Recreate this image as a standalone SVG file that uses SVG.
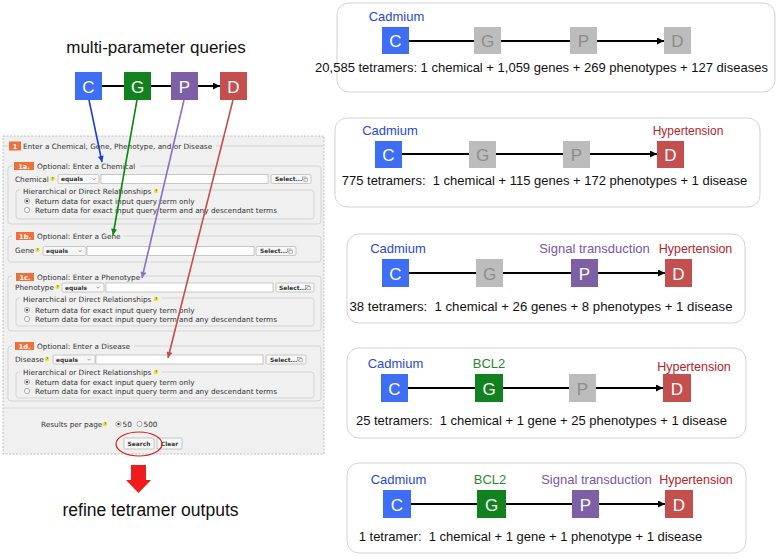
<svg xmlns="http://www.w3.org/2000/svg" width="780" height="560" viewBox="0 0 780 560">
<defs>
<style>
.t{font-family:"Liberation Sans",Arial,sans-serif;white-space:pre}
.f{font-family:"DejaVu Sans",Verdana,sans-serif;font-size:7.3px;fill:#333}
.fb{font-family:"DejaVu Sans",Verdana,sans-serif;font-size:5.9px;font-weight:bold;fill:#333}
.bw{font-family:"DejaVu Sans",Verdana,sans-serif;font-size:6.6px;font-weight:bold;fill:#fff}
.box{font-family:"Liberation Sans",Arial,sans-serif;font-size:17px;fill:#fff}
.gl{font-family:"Liberation Sans",Arial,sans-serif;font-size:17px;fill:#8c8c8c}
.cC{fill:#3d6ef3}.cG{fill:#11821d}.cP{fill:#7d5fa6}.cD{fill:#c3504f}.cX{fill:#bcbcbc}
.lC{fill:#2b48d8}.lG{fill:#2a8a2a}.lP{fill:#7a55a8}.lD{fill:#b8222a}
.panel{fill:#fff;stroke:#d3d3d3;stroke-width:1}
.chain{stroke:#000;stroke-width:2;fill:none}
.fs{fill:none;stroke:#cdcdcd;stroke-width:0.8}
.inp{fill:#fff;stroke:#a9a9a9;stroke-width:0.6}
.sel{fill:#f7f7f7;stroke:#a9a9a9;stroke-width:0.6}
.badge{fill:#f0703c}
.q{fill:#f3e52a}
.rad{fill:#fff;stroke:#777;stroke-width:0.6}
</style>
<marker id="mk" viewBox="0 0 10 10" refX="10" refY="5" markerWidth="8" markerHeight="7" orient="auto" markerUnits="userSpaceOnUse"><path d="M0,0 L10,5 L0,10z" fill="#000"/></marker>
<marker id="mb" viewBox="0 0 10 10" refX="10" refY="5" markerWidth="7" markerHeight="6" orient="auto" markerUnits="userSpaceOnUse"><path d="M0,0 L10,5 L0,10z" fill="#1a3fd8"/></marker>
<marker id="mg" viewBox="0 0 10 10" refX="10" refY="5" markerWidth="7" markerHeight="6" orient="auto" markerUnits="userSpaceOnUse"><path d="M0,0 L10,5 L0,10z" fill="#0a8a0a"/></marker>
<marker id="mp" viewBox="0 0 10 10" refX="10" refY="5" markerWidth="7" markerHeight="6" orient="auto" markerUnits="userSpaceOnUse"><path d="M0,0 L10,5 L0,10z" fill="#8a70c0"/></marker>
<marker id="mr" viewBox="0 0 10 10" refX="10" refY="5" markerWidth="7" markerHeight="6" orient="auto" markerUnits="userSpaceOnUse"><path d="M0,0 L10,5 L0,10z" fill="#c0504d"/></marker>
<g id="qi"><circle cx="0" cy="0" r="2.3" class="q"/><text x="0" y="1.4" text-anchor="middle" style="font-family:'DejaVu Sans',sans-serif;font-size:3.6px;font-weight:bold;fill:#555">?</text></g>
<g id="ro"><circle cx="0" cy="0" r="2.6" class="rad"/></g>
<g id="rc"><circle cx="0" cy="0" r="2.6" class="rad"/><circle cx="0" cy="0" r="1.3" fill="#555"/></g>
<path id="chev" d="M-1.5,-0.8 L0,0.8 L1.5,-0.8" fill="none" stroke="#666" stroke-width="0.6"/>
<g id="pop"><rect x="-1.5" y="-2.5" width="3.5" height="3" fill="none" stroke="#777" stroke-width="0.5"/><rect x="0" y="-1.2" width="3.5" height="3" fill="#f4f4f4" stroke="#777" stroke-width="0.5"/></g>
</defs>
<rect width="780" height="560" fill="#fff"/>

<text class="t" x="156" y="53" text-anchor="middle" font-size="17" fill="#111">multi-parameter queries</text>
<text class="t" x="150.5" y="516" text-anchor="middle" font-size="17.5" fill="#111">refine tetramer outputs</text>

<!-- form -->
<g id="form">
<rect x="3" y="136" width="321" height="318" fill="#f0f0f0" stroke="#b0b0b0" stroke-width="0.8" stroke-dasharray="2,1.5"/>
<line x1="4" y1="146" x2="9" y2="146" stroke="#c8c8c8" stroke-width="0.8"/>
<line x1="216" y1="146" x2="323" y2="146" stroke="#c8c8c8" stroke-width="0.8"/>
<rect x="9" y="141.5" width="12" height="9" class="badge"/>
<text class="bw" x="15" y="148.7" text-anchor="middle">1</text>
<text class="f" x="23" y="148.9">Enter a Chemical, Gene, Phenotype, and or Disease</text>

<!-- 1a -->
<rect x="8" y="166" width="313" height="58" rx="3" class="fs"/>
<rect x="12" y="161" width="128" height="10" fill="#f0f0f0"/>
<rect x="14" y="162" width="20" height="8" class="badge"/>
<text class="bw" x="24" y="168.6" text-anchor="middle">1a.</text>
<text class="f" x="37" y="168.8">Optional: Enter a Chemical</text>
<text class="f" x="15" y="181.6">Chemical</text>
<use href="#qi" x="52.5" y="179"/>
<rect x="58" y="174.5" width="41" height="9" rx="1.5" class="sel"/>
<text class="fb" x="61" y="181.2">equals</text>
<use href="#chev" x="94" y="179"/>
<rect x="101" y="174.5" width="167" height="9" class="inp"/>
<rect x="271" y="174.5" width="40" height="9" rx="1.5" class="sel"/>
<text class="fb" x="275" y="181.2">Select...</text>
<use href="#pop" x="304" y="179.5"/>
<rect x="16" y="190" width="298" height="29" rx="3" class="fs"/>
<rect x="20" y="186" width="142" height="8" fill="#f0f0f0"/>
<text class="f" x="23" y="193.6">Hierarchical or Direct Relationships</text>
<use href="#qi" x="156" y="191"/>
<use href="#rc" x="27" y="201"/>
<text class="f" x="35" y="203.6">Return data for exact input query term only</text>
<use href="#ro" x="27" y="210"/>
<text class="f" x="35" y="212.6">Return data for exact input query term and any descendant terms</text>

<!-- 1b -->
<rect x="8" y="236" width="313" height="26" rx="3" class="fs"/>
<rect x="12" y="231" width="112" height="10" fill="#f0f0f0"/>
<rect x="16" y="232" width="18" height="8" class="badge"/>
<text class="bw" x="25" y="238.6" text-anchor="middle">1b.</text>
<text class="f" x="37" y="238.8">Optional: Enter a Gene</text>
<text class="f" x="15" y="252.6">Gene</text>
<use href="#qi" x="37.5" y="250"/>
<rect x="43" y="246.5" width="43" height="9" rx="1.5" class="sel"/>
<text class="fb" x="46" y="253.2">equals</text>
<use href="#chev" x="80" y="251"/>
<rect x="87" y="246.5" width="167" height="9" class="inp"/>
<rect x="256" y="246.5" width="40" height="9" rx="1.5" class="sel"/>
<text class="fb" x="260" y="253.2">Select...</text>
<use href="#pop" x="289" y="251.5"/>

<!-- 1c -->
<rect x="8" y="276" width="313" height="55" rx="3" class="fs"/>
<rect x="12" y="272" width="132" height="10" fill="#f0f0f0"/>
<rect x="16" y="273" width="18" height="8" class="badge"/>
<text class="bw" x="25" y="279.6" text-anchor="middle">1c.</text>
<text class="f" x="37" y="279.8">Optional: Enter a Phenotype</text>
<text class="f" x="15" y="289.6">Phenotype</text>
<use href="#qi" x="57.5" y="287"/>
<rect x="62" y="283" width="42" height="9" rx="1.5" class="sel"/>
<text class="fb" x="65" y="289.7">equals</text>
<use href="#chev" x="98" y="287.5"/>
<rect x="106" y="283" width="167" height="9" class="inp"/>
<rect x="276" y="283" width="38" height="9" rx="1.5" class="sel"/>
<text class="fb" x="279" y="289.7">Select...</text>
<use href="#pop" x="307" y="288"/>
<rect x="16" y="298" width="298" height="28" rx="3" class="fs"/>
<rect x="20" y="294" width="142" height="8" fill="#f0f0f0"/>
<text class="f" x="23" y="301.6">Hierarchical or Direct Relationships</text>
<use href="#qi" x="156" y="299"/>
<use href="#rc" x="27" y="310"/>
<text class="f" x="35" y="312.6">Return data for exact input query term only</text>
<use href="#ro" x="27" y="319"/>
<text class="f" x="35" y="321.6">Return data for exact input query term and any descendant terms</text>

<!-- 1d -->
<rect x="8" y="346" width="313" height="55" rx="3" class="fs"/>
<rect x="12" y="341" width="122" height="10" fill="#f0f0f0"/>
<rect x="15" y="342" width="19" height="8" class="badge"/>
<text class="bw" x="24.5" y="348.6" text-anchor="middle">1d.</text>
<text class="f" x="37" y="348.8">Optional: Enter a Disease</text>
<text class="f" x="15" y="361.6">Disease</text>
<use href="#qi" x="47" y="359"/>
<rect x="53" y="355" width="42" height="9" rx="1.5" class="sel"/>
<text class="fb" x="56" y="361.7">equals</text>
<use href="#chev" x="89" y="359.5"/>
<rect x="96" y="355" width="167" height="9" class="inp"/>
<rect x="266" y="355" width="40" height="9" rx="1.5" class="sel"/>
<text class="fb" x="270" y="361.7">Select...</text>
<use href="#pop" x="299" y="360"/>
<rect x="16" y="372" width="298" height="26" rx="3" class="fs"/>
<rect x="20" y="368" width="142" height="8" fill="#f0f0f0"/>
<text class="f" x="23" y="374.6">Hierarchical or Direct Relationships</text>
<use href="#qi" x="156" y="372"/>
<use href="#rc" x="27" y="382"/>
<text class="f" x="35" y="384.6">Return data for exact input query term only</text>
<use href="#ro" x="27" y="391"/>
<text class="f" x="35" y="393.6">Return data for exact input query term and any descendant terms</text>

<line x1="3.5" y1="408" x2="323.5" y2="408" stroke="#d3d3d3" stroke-width="0.8"/>
<text class="f" x="41" y="426.6">Results per page</text>
<use href="#qi" x="105" y="424"/>
<use href="#rc" x="118.5" y="424"/>
<text class="f" x="122.5" y="426.6">50</text>
<use href="#ro" x="139.5" y="424"/>
<text class="f" x="143.5" y="426.6">500</text>
<rect x="124" y="438" width="30" height="11" rx="1" class="sel"/>
<text class="fb" x="139" y="445.8" text-anchor="middle">Search</text>
<rect x="157" y="438" width="25" height="11" rx="1" class="sel"/>
<text class="fb" x="169.5" y="445.8" text-anchor="middle">Clear</text>
<ellipse cx="139" cy="444" rx="23" ry="12" fill="none" stroke="#d42020" stroke-width="1.2"/>
</g>

<polygon id="refine-arrow" points="131,465 146,465 146,480 151,480 138.5,493 126,480 131,480" fill="#ee1c1c"/>

<!-- top-left nodes -->
<g id="q-C"><rect x="75" y="72" width="27" height="28" class="cC"/><text class="box" x="88.5" y="92.5" text-anchor="middle">C</text></g>
<g id="q-G"><rect x="124" y="72" width="27" height="28" class="cG"/><text class="box" x="137.5" y="92.5" text-anchor="middle">G</text></g>
<g id="q-P"><rect x="171" y="72" width="27" height="28" class="cP"/><text class="box" x="184.5" y="92.5" text-anchor="middle">P</text></g>
<g id="q-D"><rect x="220" y="72" width="27" height="28" class="cD"/><text class="box" x="233.5" y="92.5" text-anchor="middle">D</text></g>

<!-- panels -->
<g id="panel1">
<rect x="337" y="3" width="438" height="89" rx="12" class="panel"/>
<text class="t lC" x="396.5" y="21" font-size="13" text-anchor="middle">Cadmium</text>
<text class="t" x="541.5" y="72" font-size="13" text-anchor="middle" fill="#111">20,585 tetramers: 1 chemical + 1,059 genes + 269 phenotypes + 127 diseases</text>
</g>
<g id="p1-C"><rect x="382" y="27" width="27" height="27" class="cC"/><text class="box" x="395.5" y="47" text-anchor="middle">C</text></g>
<g id="p1-G"><rect x="474" y="27" width="27" height="27" class="cX"/><text class="gl" x="487.5" y="47" text-anchor="middle">G</text></g>
<g id="p1-P"><rect x="570" y="27" width="27" height="27" class="cX"/><text class="gl" x="583.5" y="47" text-anchor="middle">P</text></g>
<g id="p1-D"><rect x="664" y="27" width="27" height="27" class="cX"/><text class="gl" x="677.5" y="47" text-anchor="middle">D</text></g>

<g id="panel2">
<rect x="335" y="118" width="425" height="89" rx="12" class="panel"/>
<text class="t lC" x="390" y="135" font-size="13" text-anchor="middle">Cadmium</text>
<text class="t lD" x="688" y="135" font-size="12" text-anchor="middle">Hypertension</text>
<text class="t" x="544.5" y="185" font-size="13" text-anchor="middle" fill="#111">775 tetramers:  1 chemical + 115 genes + 172 phenotypes + 1 disease</text>
</g>
<g id="p2-C"><rect x="375" y="141" width="27" height="27" class="cC"/><text class="box" x="388.5" y="161" text-anchor="middle">C</text></g>
<g id="p2-G"><rect x="469" y="141" width="27" height="27" class="cX"/><text class="gl" x="482.5" y="161" text-anchor="middle">G</text></g>
<g id="p2-P"><rect x="563" y="141" width="27" height="27" class="cX"/><text class="gl" x="576.5" y="161" text-anchor="middle">P</text></g>
<g id="p2-D"><rect x="657" y="141" width="27" height="27" class="cD"/><text class="box" x="670.5" y="161" text-anchor="middle">D</text></g>

<g id="panel3">
<rect x="347" y="234" width="398" height="89" rx="12" class="panel"/>
<text class="t lC" x="398" y="253" font-size="13" text-anchor="middle">Cadmium</text>
<text class="t lP" x="594.5" y="253" font-size="13" text-anchor="middle">Signal transduction</text>
<text class="t lD" x="695.5" y="253" font-size="12.5" text-anchor="middle">Hypertension</text>
<text class="t" x="541" y="311" font-size="13.2" text-anchor="middle" fill="#111">38 tetramers:  1 chemical + 26 genes + 8 phenotypes + 1 disease</text>
</g>
<g id="p3-C"><rect x="382" y="259" width="27" height="28" class="cC"/><text class="box" x="395.5" y="279.5" text-anchor="middle">C</text></g>
<g id="p3-G"><rect x="476" y="259" width="27" height="28" class="cX"/><text class="gl" x="489.5" y="279.5" text-anchor="middle">G</text></g>
<g id="p3-P"><rect x="571" y="259" width="27" height="28" class="cP"/><text class="box" x="584.5" y="279.5" text-anchor="middle">P</text></g>
<g id="p3-D"><rect x="665" y="259" width="27" height="28" class="cD"/><text class="box" x="678.5" y="279.5" text-anchor="middle">D</text></g>

<g id="panel4">
<rect x="347" y="348" width="399" height="90" rx="12" class="panel"/>
<text class="t lC" x="395.5" y="368" font-size="13" text-anchor="middle">Cadmium</text>
<text class="t lG" x="489" y="368" font-size="13" text-anchor="middle">BCL2</text>
<text class="t lD" x="694" y="371" font-size="12.5" text-anchor="middle">Hypertension</text>
<text class="t" x="541.5" y="425" font-size="13" text-anchor="middle" fill="#111">25 tetramers:  1 chemical + 1 gene + 25 phenotypes + 1 disease</text>
</g>
<g id="p4-C"><rect x="381" y="374" width="27" height="28" class="cC"/><text class="box" x="394.5" y="394.5" text-anchor="middle">C</text></g>
<g id="p4-G"><rect x="475" y="374" width="28" height="28" class="cG"/><text class="box" x="489" y="394.5" text-anchor="middle">G</text></g>
<g id="p4-P"><rect x="569" y="374" width="27" height="28" class="cX"/><text class="gl" x="582.5" y="394.5" text-anchor="middle">P</text></g>
<g id="p4-D"><rect x="663" y="374" width="28" height="28" class="cD"/><text class="box" x="677" y="394.5" text-anchor="middle">D</text></g>

<g id="panel5">
<rect x="347" y="463" width="399" height="90" rx="12" class="panel"/>
<text class="t lC" x="398.5" y="484" font-size="13" text-anchor="middle">Cadmium</text>
<text class="t lG" x="490" y="484" font-size="13" text-anchor="middle">BCL2</text>
<text class="t lP" x="596.5" y="484" font-size="13" text-anchor="middle">Signal transduction</text>
<text class="t lD" x="696" y="484" font-size="12.5" text-anchor="middle">Hypertension</text>
<text class="t" x="530.5" y="541" font-size="13" text-anchor="middle" fill="#111">1 tetramer:  1 chemical + 1 gene + 1 phenotype + 1 disease</text>
</g>
<g id="p5-C"><rect x="383" y="490" width="28" height="28" class="cC"/><text class="box" x="397" y="510.5" text-anchor="middle">C</text></g>
<g id="p5-G"><rect x="477" y="490" width="29" height="28" class="cG"/><text class="box" x="491.5" y="510.5" text-anchor="middle">G</text></g>
<g id="p5-P"><rect x="572" y="490" width="27" height="28" class="cP"/><text class="box" x="585.5" y="510.5" text-anchor="middle">P</text></g>
<g id="p5-D"><rect x="665" y="490" width="28" height="28" class="cD"/><text class="box" x="679" y="510.5" text-anchor="middle">D</text></g>

<!-- connectors -->
<g id="connectors">
<line x1="102" y1="86" x2="124" y2="86" class="chain"/>
<line x1="151" y1="86" x2="171" y2="86" class="chain"/>
<line x1="198" y1="86" x2="220" y2="86" class="chain" marker-end="url(#mk)"/>
<line x1="89" y1="100" x2="102" y2="162" stroke="#1a3fd8" stroke-width="1.6" marker-end="url(#mb)"/>
<line x1="137" y1="100" x2="113" y2="235" stroke="#0a8a0a" stroke-width="1.6" marker-end="url(#mg)"/>
<line x1="184" y1="100" x2="142" y2="278" stroke="#8a70c0" stroke-width="1.6" marker-end="url(#mp)"/>
<line x1="233" y1="100" x2="168" y2="358" stroke="#c0504d" stroke-width="1.6" marker-end="url(#mr)"/>

<line x1="409" y1="41" x2="474" y2="41" class="chain"/>
<line x1="501" y1="41" x2="570" y2="41" class="chain"/>
<line x1="597" y1="41" x2="664" y2="41" class="chain" marker-end="url(#mk)"/>

<line x1="402" y1="154" x2="469" y2="154" class="chain"/>
<line x1="496" y1="154" x2="563" y2="154" class="chain"/>
<line x1="590" y1="154" x2="657" y2="154" class="chain" marker-end="url(#mk)"/>

<line x1="409" y1="273" x2="476" y2="273" class="chain"/>
<line x1="503" y1="273" x2="571" y2="273" class="chain"/>
<line x1="598" y1="273" x2="665" y2="273" class="chain" marker-end="url(#mk)"/>

<line x1="408" y1="388" x2="475" y2="388" class="chain"/>
<line x1="503" y1="388" x2="569" y2="388" class="chain"/>
<line x1="596" y1="388" x2="663" y2="388" class="chain" marker-end="url(#mk)"/>

<line x1="411" y1="504" x2="477" y2="504" class="chain"/>
<line x1="506" y1="504" x2="572" y2="504" class="chain"/>
<line x1="599" y1="504" x2="665" y2="504" class="chain" marker-end="url(#mk)"/>
</g>
</svg>
